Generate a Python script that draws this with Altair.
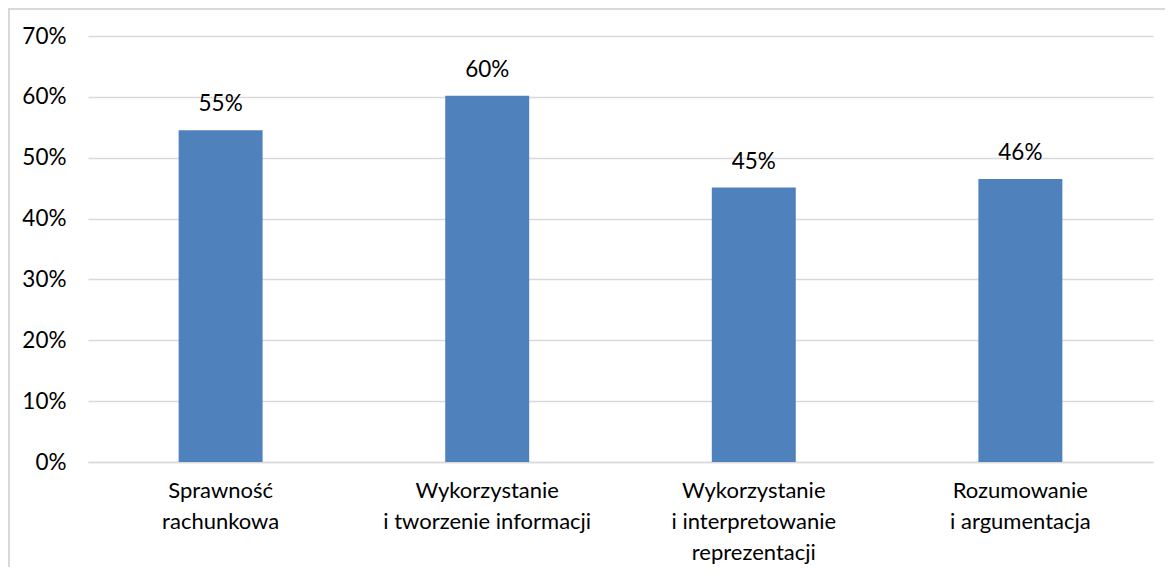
import altair as alt
import pandas as pd

categories = [
    "Sprawność\nrachunkowa",
    "Wykorzystanie\ni tworzenie informacji",
    "Wykorzystanie\ni interpretowanie\nreprezentacji",
    "Rozumowanie\ni argumentacja",
]
values = [0.545, 0.602, 0.451, 0.465]
labels = ["55%", "60%", "45%", "46%"]

df = pd.DataFrame({"cat": categories, "val": values, "lab": labels})

FONT = "Lato"
FS_CAT = 22
FS_NUM = 22.5
W, H = 1065, 426

x = alt.X("cat:N", sort=categories, title=None,
          scale=alt.Scale(paddingInner=0.685, paddingOuter=0.34),
          axis=alt.Axis(labelAngle=0, labelExpr="split(datum.label, '\\n')",
                        labelFont=FONT, labelFontSize=FS_CAT, labelColor="#000000",
                        labelLineHeight=31, labelPadding=18, labelBaseline="top",
                        labelLimit=400, ticks=False, domainColor="#d9d9d9",
                        domainWidth=1.5, grid=False))
y = alt.Y("val:Q", title=None,
          scale=alt.Scale(domain=[0, 0.7], nice=False),
          axis=alt.Axis(format=".0%", values=[0, 0.1, 0.2, 0.3, 0.4, 0.5, 0.6, 0.7],
                        labelFont=FONT, labelFontSize=FS_NUM, labelColor="#000000",
                        labelPadding=22, ticks=False, domain=False,
                        gridColor="#d9d9d9", gridWidth=1.3))

bars = alt.Chart(df).mark_bar(color="#4f81bd").encode(x=x, y=y)
text = alt.Chart(df).mark_text(font=FONT, fontSize=FS_NUM, color="#000000",
                               baseline="bottom", dy=-14).encode(
    x=alt.X("cat:N", sort=categories), y="val:Q", text="lab:N")

left_edge = alt.Chart(df).mark_rule(color="#d9d9d9", strokeWidth=2).encode(
    x=alt.value(-79), y=alt.value(-28), y2=alt.value(H + 120))
top_edge = alt.Chart(df).mark_rule(color="#d9d9d9", strokeWidth=2).encode(
    x=alt.value(-80), x2=alt.value(W + 20), y=alt.value(-27))

chart = alt.layer(bars, text, left_edge, top_edge).properties(
    width=W, height=H,
    background="white",
    padding={"left": 80, "top": 28, "right": 12, "bottom": 105},
    autosize=alt.AutoSizeParams(type="none"),
).configure_view(stroke="transparent", strokeWidth=0)

chart.save("out.html", embed_options={"renderer": "svg", "actions": False})
